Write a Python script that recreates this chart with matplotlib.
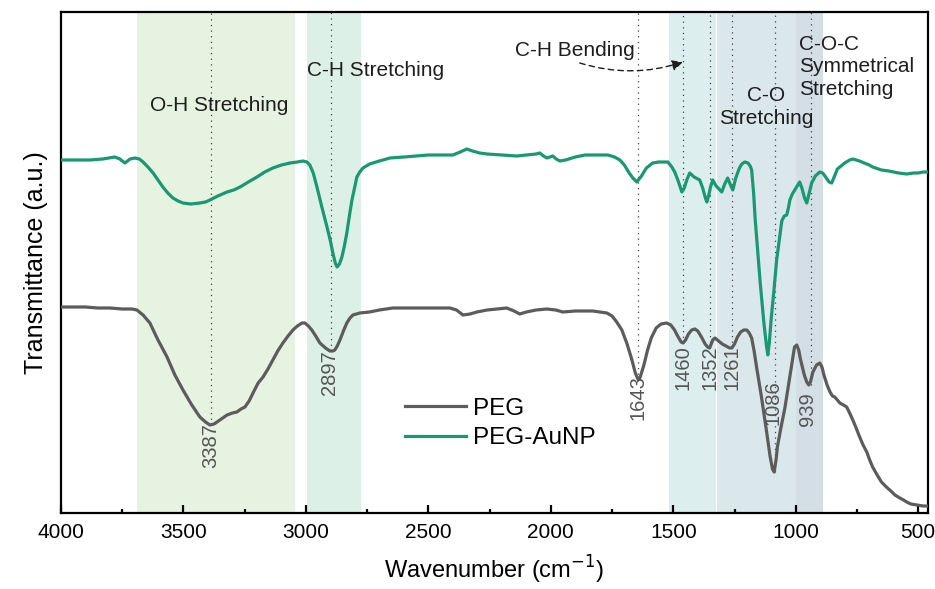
"""
FTIR spectra of PEG and PEG-AuNP with band assignments.
"""

import matplotlib
matplotlib.use('Agg')
import matplotlib.pyplot as plt
from matplotlib.ticker import MultipleLocator

# Data (transmittance in arbitrary units)
PEG_WN = [4000, 3950, 3900, 3850, 3800, 3750, 3710, 3690, 3665, 3637, 3604,
          3567, 3535, 3502, 3466, 3433, 3410, 3392, 3375, 3363, 3340, 3322,
          3300, 3282, 3265, 3249, 3232, 3216, 3195, 3175, 3155, 3135, 3115,
          3094, 3073, 3053, 3035, 3016, 3004, 2990, 2976, 2960, 2943, 2920,
          2902, 2890, 2882, 2872, 2861, 2847, 2833, 2820, 2808, 2780, 2740,
          2700, 2645, 2600, 2500, 2412, 2385, 2359, 2330, 2302, 2260, 2220,
          2180, 2150, 2127, 2100, 2060, 2016, 1980, 1951, 1900, 1860, 1829,
          1800, 1771, 1750, 1731, 1710, 1690, 1670, 1655, 1643, 1635, 1620,
          1605, 1590, 1570, 1550, 1527, 1510, 1495, 1480, 1468, 1460, 1450,
          1438, 1425, 1412, 1400, 1385, 1370, 1360, 1352, 1345, 1339, 1330,
          1315, 1300, 1285, 1270, 1261, 1250, 1238, 1225, 1212, 1200, 1190,
          1180, 1170, 1160, 1140, 1120, 1105, 1095, 1088, 1080, 1075, 1060,
          1045, 1030, 1020, 1005, 996, 988, 980, 972, 965, 955, 947, 940, 930,
          915, 902, 893, 885, 872, 860, 850, 841, 830, 820, 805, 792, 780,
          767, 755, 739, 725, 710, 698, 686, 670, 650, 630, 616, 595, 575,
          560, 547, 530, 506, 480, 460]
PEG_T = [206, 206, 206, 205, 205, 204, 204, 203, 198, 190, 173,
         156, 138, 123, 108, 96, 91, 88, 89, 91, 95, 98,
         100, 101, 104, 106, 112, 120, 130, 136, 144, 153, 162,
         170, 177, 183, 187, 190, 190, 187, 183, 177, 170, 165,
         162, 162, 163, 167, 173, 182, 190, 195, 198, 200, 201,
         203, 205, 205, 205, 205, 203, 198, 199, 201, 203, 204,
         205, 202, 199, 201, 203, 204, 203, 201, 202, 202, 202,
         201, 200, 197, 191, 183, 170, 154, 140, 133, 136, 148,
         163, 175, 185, 189, 190, 188, 183, 176, 171, 170, 173,
         179, 183, 184, 182, 176, 169, 166, 165, 169, 173, 175,
         172, 169, 167, 165, 165, 169, 176, 181, 183, 183, 180,
         175, 162, 146, 116, 83, 57, 44, 41, 54, 66, 86,
         104, 127, 142, 166, 168, 163, 153, 145, 138, 131, 128, 131, 141,
         148, 150, 146, 138, 128, 121, 117, 116, 113, 110, 108, 106, 100,
         93, 86, 76, 68, 61, 53, 46, 39, 31, 26, 23, 18, 15,
         13, 11, 9, 8, 7, 7]

AUNP_WN = [4000, 3940, 3882, 3830, 3780, 3760, 3739, 3718, 3698, 3680, 3665,
           3645, 3624, 3604, 3584, 3564, 3543, 3522, 3502, 3470, 3433, 3410,
           3392, 3360, 3322, 3295, 3269, 3235, 3200, 3168, 3135, 3100, 3065,
           3035, 3012, 2996, 2984, 2970, 2955, 2935, 2914, 2900, 2890, 2880,
           2873, 2863, 2853, 2843, 2833, 2822, 2812, 2800, 2792, 2780, 2767,
           2740, 2700, 2657, 2600, 2550, 2500, 2450, 2400, 2370, 2343, 2320,
           2290, 2261, 2200, 2139, 2100, 2060, 2045, 2030, 2016, 2004, 1992,
           1978, 1963, 1940, 1900, 1860, 1829, 1800, 1767, 1740, 1718, 1700,
           1680, 1665, 1649, 1630, 1610, 1584, 1560, 1540, 1522, 1506, 1494,
           1480, 1465, 1455, 1445, 1433, 1415, 1400, 1392, 1380, 1370, 1363,
           1355, 1348, 1339, 1325, 1310, 1302, 1290, 1278, 1268, 1257, 1245,
           1230, 1220, 1208, 1195, 1186, 1180, 1172, 1166, 1159, 1145, 1130,
           1120, 1114, 1108, 1100, 1090, 1078, 1065, 1057, 1047, 1037, 1030,
           1024, 1014, 1004, 994, 984, 975, 964, 955, 947, 935, 920, 902, 890,
           875, 864, 853, 840, 830, 820, 800, 780, 767, 740, 700, 686, 650,
           620, 580, 547, 520, 500, 480, 461]
AUNP_T = [353, 353, 353, 354, 356, 354, 350, 354, 355, 354, 351,
          346, 340, 333, 326, 320, 315, 312, 310, 309, 310, 311,
          313, 317, 321, 323, 326, 331, 336, 341, 345, 348, 350,
          351, 352, 351, 348, 340, 326, 306, 286, 272, 260, 250,
          246, 249, 256, 267, 280, 298, 313, 327, 336, 341, 345,
          349, 352, 355, 356, 357, 358, 358, 358, 361, 364, 362,
          360, 359, 358, 357, 358, 359, 360, 357, 355, 356, 357,
          354, 352, 353, 356, 358, 358, 358, 358, 356, 353, 348,
          340, 335, 331, 337, 345, 350, 351, 351, 351, 346, 341,
          332, 321, 325, 333, 340, 336, 334, 333, 325, 316, 311,
          318, 326, 333, 327, 323, 321, 329, 335, 329, 323, 335,
          345, 349, 351, 350, 347, 343, 320, 295, 273, 230, 190,
          168, 158, 170, 195, 220, 253, 277, 292, 297, 298, 305,
          313, 319, 323, 327, 331, 325, 315, 310, 318, 330, 337, 341, 340,
          335, 331, 330, 338, 344, 346, 350, 353, 354, 352, 348, 346, 343,
          342, 340, 339, 340, 340, 341, 341]

SERIES_LABELS = ['PEG', 'PEG-AuNP']
SERIES_COLORS = ['#5c5c5c', '#1a9872']

PEAK_WN = [3387, 2897, 1643, 1460, 1352, 1261, 1086, 939]
PEAK_LINE_END = [88, 162, 133, 170, 165, 165, 41, 128]
PEAK_LABEL_TOP = [90, 163, 138, 168, 168, 168, 133, 121]
PEAK_LABEL_WN = [3387, 2902, 1643, 1460, 1352, 1261, 1094, 951]

BANDS = [(3690, 3045), (2996, 2776), (1518, 1325), (1320, 1000), (1000, 890)]
BAND_COLORS = ['#e5f3e0', '#dcf0e8', '#ddeeef', '#dbe8eb', '#d3dee5']

XTICKS = [4000, 3500, 3000, 2500, 2000, 1500, 1000, 500]

plt.rcParams['font.family'] = ['Liberation Sans', 'DejaVu Sans']

fig = plt.figure(figsize=(9.35, 5.89), dpi=100)
ax = fig.add_axes([61 / 935, 76 / 589, 867 / 935, 501 / 589])

# Shaded band regions
for (hi, lo), c in zip(BANDS, BAND_COLORS):
    ax.axvspan(lo, hi, color=c, lw=0, zorder=0)

# Dotted guide lines at the PEG peaks
for wn, yend in zip(PEAK_WN, PEAK_LINE_END):
    ax.plot([wn, wn], [yend, 501], color='#444444', lw=0.9,
            linestyle=(0, (1, 3.5)), zorder=1)

ax.plot(PEG_WN, PEG_T, color=SERIES_COLORS[0], lw=2.3, label=SERIES_LABELS[0],
        zorder=3, solid_joinstyle='round')
ax.plot(AUNP_WN, AUNP_T, color=SERIES_COLORS[1], lw=2.3, label=SERIES_LABELS[1],
        zorder=3, solid_joinstyle='round')

# Peak position labels
for wn, top, lab in zip(PEAK_LABEL_WN, PEAK_LABEL_TOP, PEAK_WN):
    ax.text(wn, top, str(lab), rotation=90, ha='center', va='top',
            fontsize=14.5, color='#555555', zorder=4)

# Band assignments
txt = dict(fontsize=15, color='#1e1e1e', zorder=4)
ax.text(3355, 408, 'O-H Stretching', ha='center', va='center', **txt)
ax.text(2714, 443, 'C-H Stretching', ha='center', va='center', **txt)
ax.text(1902, 463, 'C-H Bending', ha='center', va='center', **txt)
ax.text(1122, 406, 'C-O\nStretching', ha='center', va='center',
        linespacing=1.25, **txt)
ax.text(988, 446, 'C-O-C\nSymmetrical\nStretching', ha='left', va='center',
        linespacing=1.25, **txt)
ax.annotate('', xy=(1461, 451), xytext=(1882, 450),
            arrowprops=dict(arrowstyle='-|>', color='#1e1e1e', lw=1.0,
                            linestyle=(0, (4, 3)), mutation_scale=16,
                            shrinkA=0, shrinkB=0,
                            connectionstyle='arc3,rad=0.16'),
            zorder=4)

ax.set_xlim(4000, 460)
ax.set_ylim(0, 501)
ax.set_xticks(XTICKS)
ax.xaxis.set_minor_locator(MultipleLocator(250))
ax.set_yticks([])
ax.tick_params(axis='x', which='major', direction='in', length=6, width=1.6,
               labelsize=15, pad=7)
ax.tick_params(axis='x', which='minor', direction='in', length=3, width=1.6)
for sp in ax.spines.values():
    sp.set_linewidth(1.6)

ax.set_xlabel('Wavenumber (cm$^{-1}$)', fontsize=17, labelpad=9)
ax.set_ylabel('Transmittance (a.u.)', fontsize=18, labelpad=9)

ax.legend(loc='center left', bbox_to_anchor=(344 / 867, 89.5 / 501),
          frameon=False, fontsize=17.5, handlelength=2.5, handletextpad=0.3,
          labelspacing=0.3, borderpad=0, borderaxespad=0)

fig.savefig('out.png', dpi=100)
